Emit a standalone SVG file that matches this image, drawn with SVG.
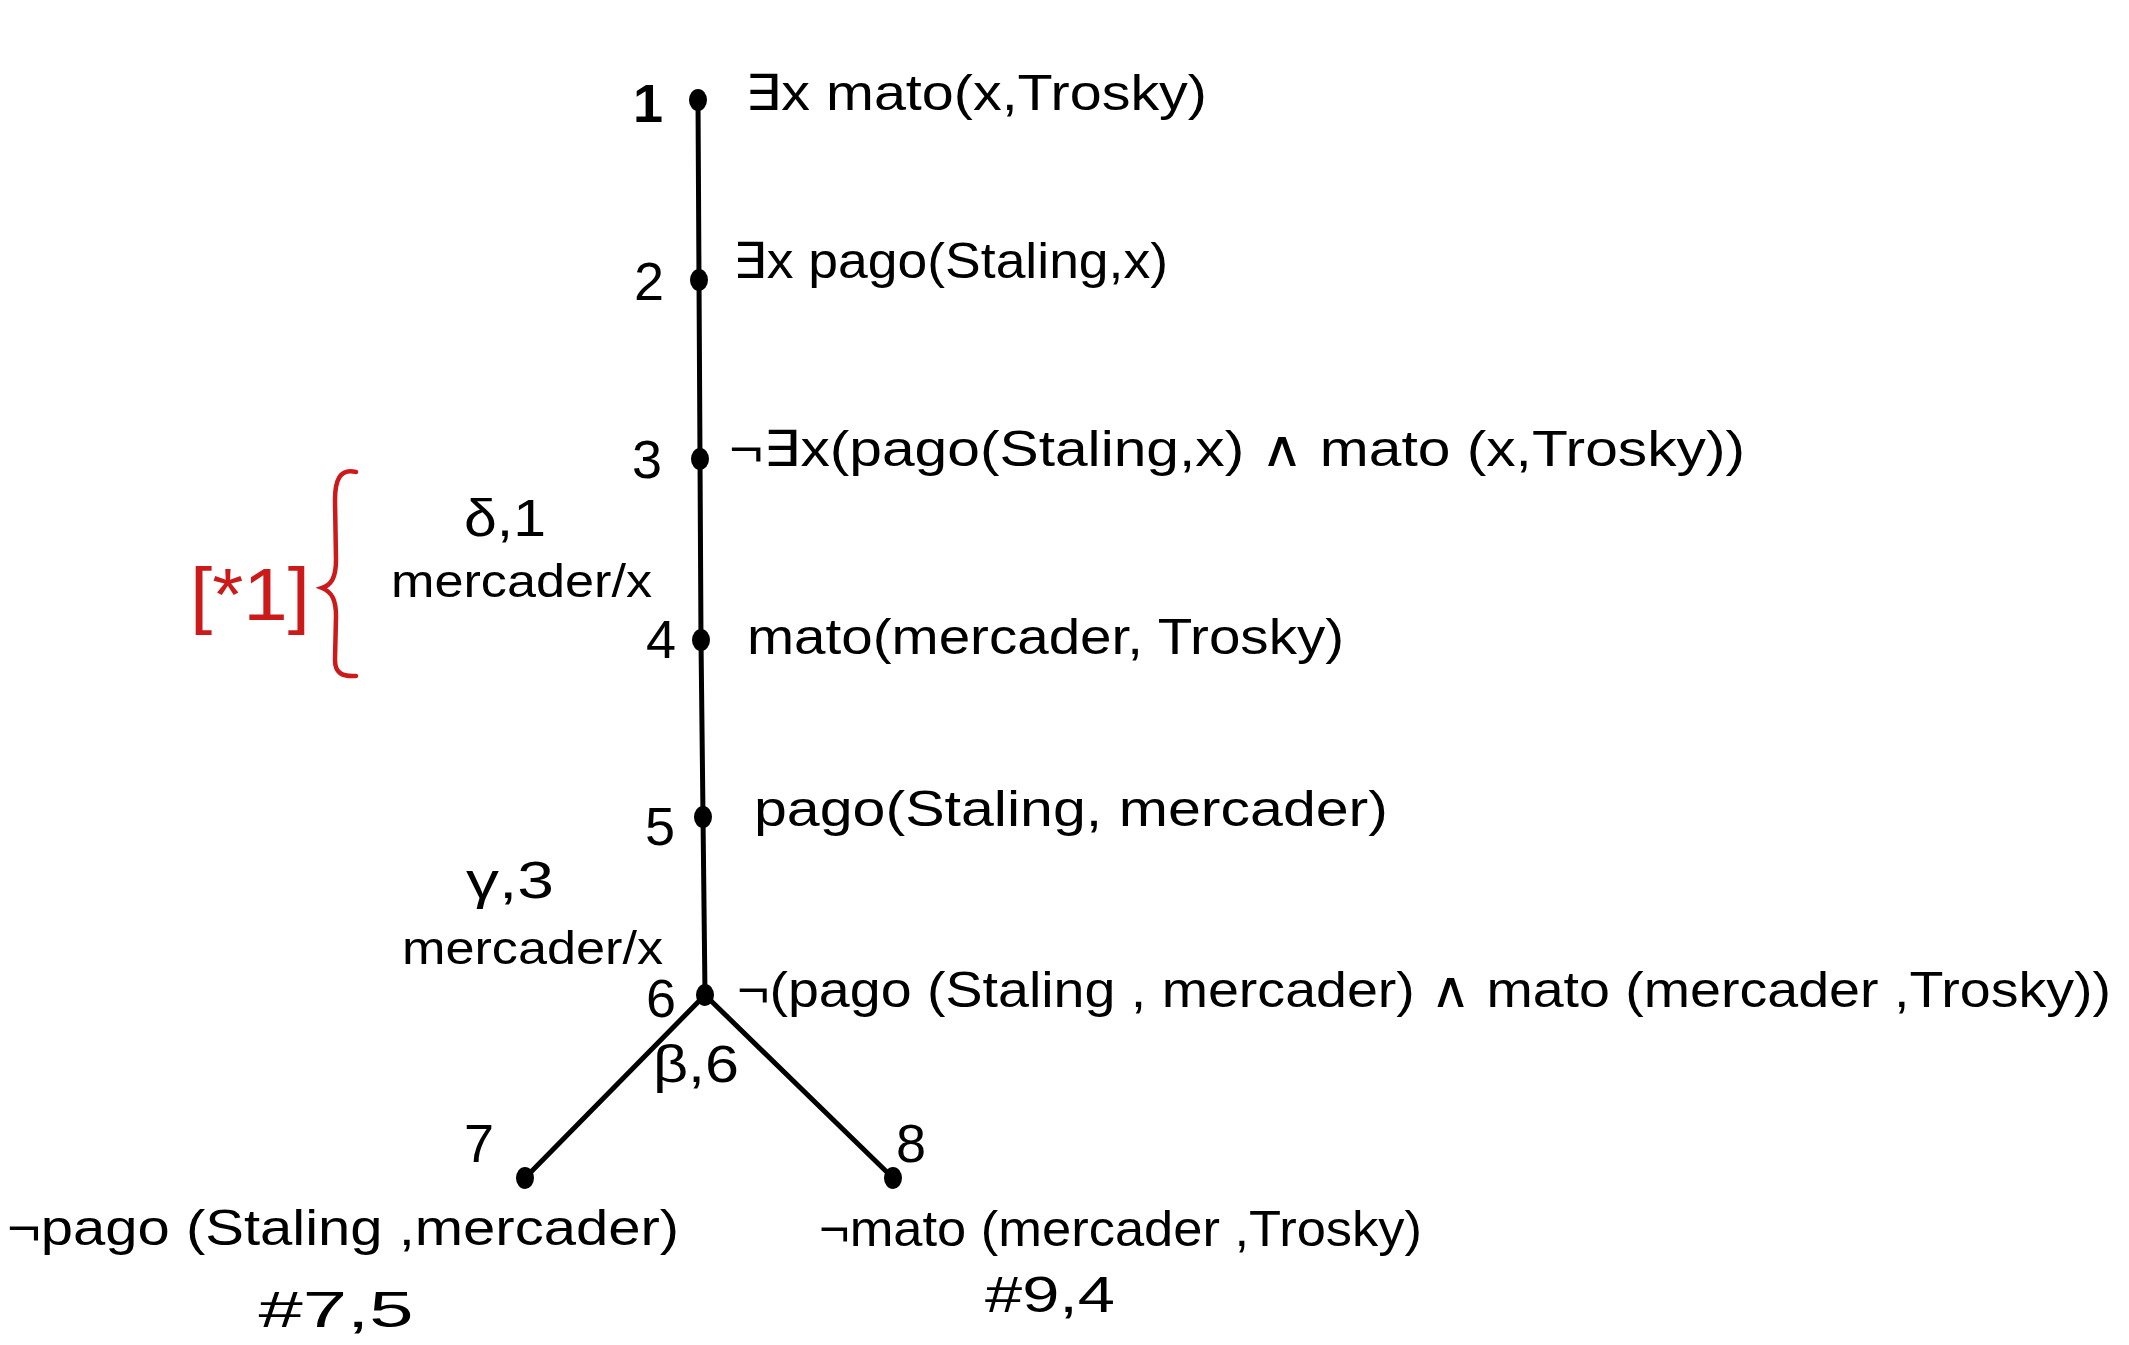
<svg xmlns="http://www.w3.org/2000/svg" width="2129" height="1345" viewBox="0 0 2129 1345">
<style>
.f{font-family:"Liberation Sans","DejaVu Sans",sans-serif;font-size:50px;fill:#000}
.n{font-family:"Liberation Sans","DejaVu Sans",sans-serif;font-size:54px;fill:#000}
.r{font-family:"Liberation Sans","DejaVu Sans",sans-serif;font-size:46px;fill:#000}
.g{font-family:"Liberation Sans","DejaVu Sans",sans-serif;font-size:52px;fill:#000}
.red{font-family:"Liberation Sans","DejaVu Sans",sans-serif;font-size:74px;fill:#cc1a1a}
.edge{stroke:#000;stroke-width:5;fill:none;stroke-linecap:round}
.dot{fill:#000}
</style>
<rect width="2129" height="1345" fill="#fff"/>
<g id="connectors">
<polyline class="edge" points="698,99 699,280 700,459 701,640 703,816 705,995"/>
<line class="edge" x1="705" y1="995" x2="525" y2="1178"/>
<line class="edge" x1="705" y1="995" x2="893" y2="1178"/>
</g>
<g id="node1">
<ellipse class="dot" cx="698" cy="100" rx="9" ry="11"/>
<text class="n" x="648" y="122" text-anchor="middle" font-weight="bold">1</text>
<text class="f" x="745" y="110" textLength="462" lengthAdjust="spacingAndGlyphs">∃x mato(x,Trosky)</text>
</g>
<g id="node2">
<ellipse class="dot" cx="699" cy="280" rx="9" ry="11"/>
<text class="n" x="649" y="300" text-anchor="middle">2</text>
<text class="f" x="733" y="278" textLength="435" lengthAdjust="spacingAndGlyphs">∃x pago(Staling,x)</text>
</g>
<g id="node3">
<ellipse class="dot" cx="700" cy="459" rx="9" ry="11"/>
<text class="n" x="647" y="478" text-anchor="middle">3</text>
<text class="f" x="729" y="466" textLength="1016" lengthAdjust="spacingAndGlyphs">¬∃x(pago(Staling,x) ∧ mato (x,Trosky))</text>
</g>
<g id="node4">
<ellipse class="dot" cx="701" cy="640" rx="9" ry="11"/>
<text class="n" x="661" y="658" text-anchor="middle">4</text>
<text class="f" x="747" y="654" textLength="597" lengthAdjust="spacingAndGlyphs">mato(mercader, Trosky)</text>
</g>
<g id="node5">
<ellipse class="dot" cx="703" cy="817" rx="9" ry="11"/>
<text class="n" x="660" y="845" text-anchor="middle">5</text>
<text class="f" x="754" y="826" textLength="634" lengthAdjust="spacingAndGlyphs">pago(Staling, mercader)</text>
</g>
<g id="node6">
<ellipse class="dot" cx="705" cy="995" rx="9" ry="11"/>
<text class="n" x="661" y="1017" text-anchor="middle">6</text>
<text class="f" x="737" y="1007" textLength="1374" lengthAdjust="spacingAndGlyphs">¬(pago (Staling , mercader) ∧ mato (mercader ,Trosky))</text>
</g>
<g id="node7">
<ellipse class="dot" cx="525" cy="1178" rx="9" ry="11"/>
<text class="n" x="479" y="1162" text-anchor="middle">7</text>
<text class="f" x="7" y="1245" textLength="672" lengthAdjust="spacingAndGlyphs">¬pago (Staling ,mercader)</text>
<text class="f" x="336" y="1327" text-anchor="middle" textLength="155" lengthAdjust="spacingAndGlyphs">#7,5</text>
</g>
<g id="node8">
<ellipse class="dot" cx="893" cy="1178" rx="9" ry="11"/>
<text class="n" x="911" y="1162" text-anchor="middle">8</text>
<text class="f" x="819" y="1246" textLength="603" lengthAdjust="spacingAndGlyphs">¬mato (mercader ,Trosky)</text>
<text class="f" x="1050" y="1312" text-anchor="middle" textLength="130" lengthAdjust="spacingAndGlyphs">#9,4</text>
</g>
<g id="rule-delta">
<text class="g" x="505" y="536" text-anchor="middle" textLength="82" lengthAdjust="spacingAndGlyphs">δ,1</text>
<text class="r" x="391" y="597" textLength="261" lengthAdjust="spacingAndGlyphs">mercader/x</text>
</g>
<g id="rule-gamma">
<text class="g" x="510" y="898" text-anchor="middle" textLength="88" lengthAdjust="spacingAndGlyphs">γ,3</text>
<text class="r" x="402" y="964" textLength="261" lengthAdjust="spacingAndGlyphs">mercader/x</text>
</g>
<g id="rule-beta">
<text class="g" x="696" y="1082" text-anchor="middle" textLength="86" lengthAdjust="spacingAndGlyphs">β,6</text>
</g>
<g id="note">
<text class="red" x="190" y="620" textLength="120" lengthAdjust="spacingAndGlyphs">[*1]</text>
<path d="M356,472 C340,468 335,480 335,500 L336,560 C336,578 331,585 322,588 C332,592 336,600 336,616 L335,660 C335,672 341,677 356,676" stroke="#cc1a1a" stroke-width="4.5" fill="none" stroke-linecap="round"/>
</g>
</svg>
